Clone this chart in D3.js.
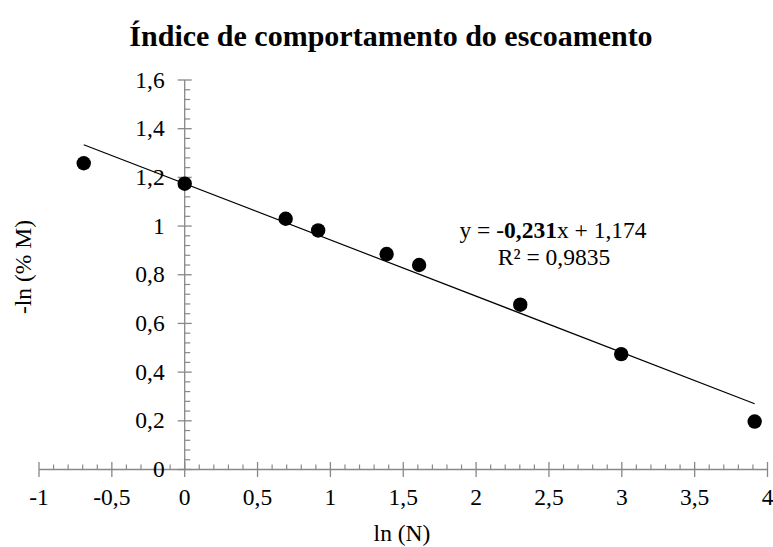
<!DOCTYPE html>
<html>
<head>
<meta charset="utf-8">
<script src="https://cdn.jsdelivr.net/npm/d3@7"></script>
<style>
  html, body { margin: 0; padding: 0; background: #fff; }
  svg { display: block; font-family: "Liberation Serif", "Times New Roman", serif; }
</style>
</head>
<body>
<svg id="chart" width="773" height="547"></svg>
<script>
// ln(N) values and the corresponding -ln(%M)
const lnN = [-0.693, 0, 0.693, 0.916, 1.386, 1.609, 2.303, 2.996, 3.912];
const negLnM = [1.258, 1.174, 1.030, 0.982, 0.885, 0.840, 0.677, 0.474, 0.197];

// linear fit
const slope = -0.231;
const intercept = 1.174;
const r2 = "0,9835";

const xTicks = [-1, -0.5, 0, 0.5, 1, 1.5, 2, 2.5, 3, 3.5, 4];
const yTicks = [0, 0.2, 0.4, 0.6, 0.8, 1, 1.2, 1.4, 1.6];

const svg = d3.select("#chart");
const fmt = v => String(v).replace(".", ",");

const x = d3.scaleLinear().domain([-1, 4]).range([39, 767.5]);
const y = d3.scaleLinear().domain([0, 1.6]).range([469.5, 80]);

const axisColor = "#888";
const labelSize = 23.5;

// title
svg.append("text")
  .attr("x", 391).attr("y", 46)
  .attr("text-anchor", "middle")
  .attr("font-size", 30).attr("font-weight", "bold")
  .text("Índice de comportamento do escoamento");

// x axis (at y = 0), major ticks cross the line, minor ticks above
const gx = svg.append("g").attr("transform", `translate(0,${y(0)})`);
gx.append("line").attr("x1", x(-1)).attr("x2", x(4)).attr("stroke", axisColor).attr("stroke-width", 1.3);
const xMinor = d3.range(-10, 41).map(i => i / 10).filter(v => Math.abs(v * 2 - Math.round(v * 2)) > 1e-6);
gx.selectAll(".xminor").data(xMinor).join("line")
  .attr("x1", d => x(d)).attr("x2", d => x(d)).attr("y1", 0).attr("y2", -5)
  .attr("stroke", axisColor).attr("stroke-width", 1.2);
gx.selectAll(".xmajor").data(xTicks).join("line")
  .attr("x1", d => x(d)).attr("x2", d => x(d)).attr("y1", -7.5).attr("y2", 7.5)
  .attr("stroke", axisColor).attr("stroke-width", 1.3);
gx.selectAll(".xlab").data(xTicks).join("text")
  .attr("x", d => x(d)).attr("y", 35)
  .attr("text-anchor", "middle").attr("font-size", labelSize)
  .text(d => fmt(d));

// y axis (at x = 0), major ticks cross the line, minor ticks to the right
const gy = svg.append("g").attr("transform", `translate(${x(0)},0)`);
gy.append("line").attr("y1", y(0)).attr("y2", y(1.6)).attr("stroke", axisColor).attr("stroke-width", 1.3);
const yMinor = d3.range(0, 41).map(i => i * 0.04).filter(v => Math.abs(v * 5 - Math.round(v * 5)) > 1e-6);
gy.selectAll(".yminor").data(yMinor).join("line")
  .attr("x1", 0).attr("x2", 5.5).attr("y1", d => y(d)).attr("y2", d => y(d))
  .attr("stroke", axisColor).attr("stroke-width", 1.2);
gy.selectAll(".ymajor").data(yTicks).join("line")
  .attr("x1", -7).attr("x2", 7).attr("y1", d => y(d)).attr("y2", d => y(d))
  .attr("stroke", axisColor).attr("stroke-width", 1.3);
gy.selectAll(".ylab").data(yTicks).join("text")
  .attr("x", -20).attr("y", d => y(d) + 7.5)
  .attr("text-anchor", "end").attr("font-size", labelSize)
  .text(d => fmt(d));

// axis titles
svg.append("text")
  .attr("x", 402).attr("y", 541)
  .attr("text-anchor", "middle").attr("font-size", labelSize)
  .text("ln (N)");
svg.append("text")
  .attr("transform", "translate(31,267) rotate(-90)")
  .attr("text-anchor", "middle").attr("font-size", labelSize)
  .text("-ln (% M)");

// trend line over the data range
const xMin = d3.min(lnN), xMax = d3.max(lnN);
svg.append("line")
  .attr("x1", x(xMin)).attr("y1", y(slope * xMin + intercept))
  .attr("x2", x(xMax)).attr("y2", y(slope * xMax + intercept))
  .attr("stroke", "#000").attr("stroke-width", 1.2);

// data points
svg.selectAll(".pt").data(lnN.map((v, i) => [v, negLnM[i]])).join("circle")
  .attr("cx", d => x(d[0])).attr("cy", d => y(d[1])).attr("r", 7.2)
  .attr("fill", "#000");

// equation and R²
const eq = svg.append("text")
  .attr("x", 553).attr("y", 238)
  .attr("text-anchor", "middle").attr("font-size", labelSize);
eq.append("tspan").text("y = -");
eq.append("tspan").attr("font-weight", "bold").text(fmt(Math.abs(slope)));
eq.append("tspan").text("x + " + fmt(intercept));
svg.append("text")
  .attr("x", 554).attr("y", 265)
  .attr("text-anchor", "middle").attr("font-size", labelSize)
  .text("R² = " + r2);
</script>
</body>
</html>
